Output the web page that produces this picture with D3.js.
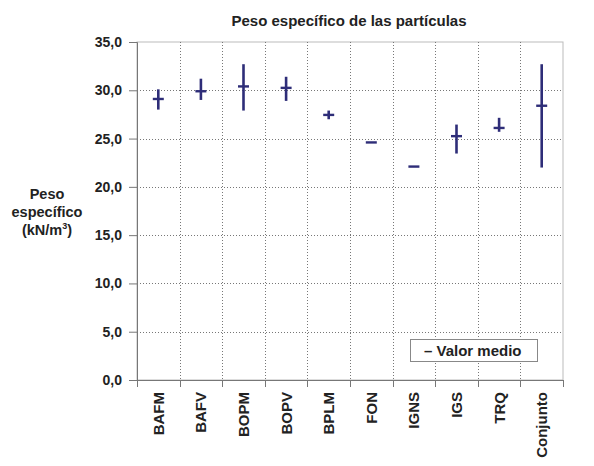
<!DOCTYPE html>
<html>
<head>
<meta charset="utf-8">
<title>Peso específico de las partículas</title>
<style>
body { margin: 0; background: #fff; }
svg text { font-family: "Liberation Sans", Arial, sans-serif; font-weight: bold; fill: #222; }
</style>
</head>
<body>
<svg width="594" height="466"></svg>
<script src="https://d3js.org/d3.v7.min.js"></script>
<script>
// values (kN/m3)
var grupos = ["BAFM", "BAFV", "BOPM", "BOPV", "BPLM", "FON", "IGNS", "IGS", "TRQ", "Conjunto"];
var minimos = [28.0, 29.0, 27.9, 28.9, 27.0, 24.6, 22.1, 23.45, 25.7, 22.0];
var maximos = [30.1, 31.2, 32.7, 31.4, 27.9, 24.6, 22.1, 26.45, 27.15, 32.7];
var medios = [29.1, 29.9, 30.4, 30.25, 27.45, 24.6, 22.1, 25.25, 26.1, 28.4];
var yTicks = [0, 5, 10, 15, 20, 25, 30, 35];

var svg = d3.select("svg");
var margin = {left: 137, right: 31, top: 42, bottom: 86};
var W = 594 - margin.left - margin.right,
    H = 466 - margin.top - margin.bottom;

var x = d3.scaleBand().domain(grupos).range([0, W]);
var y = d3.scaleLinear().domain([0, 35]).range([H, 0]);

var g = svg.append("g").attr("transform", "translate(" + margin.left + "," + margin.top + ")");

// frame top/right
g.append("rect").attr("width", W).attr("height", H)
  .attr("fill", "none").attr("stroke", "#bbb").attr("stroke-width", 1);

// horizontal grid
g.selectAll("line.hgrid").data(yTicks.slice(1, -1)).enter().append("line")
  .attr("class", "hgrid")
  .attr("x1", 0).attr("x2", W)
  .attr("y1", function(d) { return Math.round(y(d)) + 0.5; })
  .attr("y2", function(d) { return Math.round(y(d)) + 0.5; })
  .attr("stroke", "#777").attr("stroke-dasharray", "1,2");

// vertical grid between categories
var bordes = grupos.slice(1).map(function(d) { return x(d); });
g.selectAll("line.vgrid").data(bordes).enter().append("line")
  .attr("class", "vgrid")
  .attr("x1", function(d) { return Math.round(d) + 0.5; })
  .attr("x2", function(d) { return Math.round(d) + 0.5; })
  .attr("y1", 0).attr("y2", H)
  .attr("stroke", "#777").attr("stroke-dasharray", "1,2");

// y axis
var yAxis = g.append("g").call(d3.axisLeft(y).tickValues(yTicks).tickSize(8).tickPadding(7)
  .tickFormat(function(d) { return d3.format(".1f")(d).replace(".", ","); }));
yAxis.select(".domain").attr("stroke", "#777");
yAxis.selectAll(".tick line").attr("stroke", "#777");
yAxis.selectAll("text").style("font-size", "14px").attr("fill", "#222");

// x axis: ticks at category borders
var xAxis = g.append("g").attr("transform", "translate(0," + H + ")");
xAxis.append("line").attr("x1", 0).attr("x2", W).attr("y1", 0.5).attr("y2", 0.5).attr("stroke", "#777");
xAxis.selectAll("line.tk").data([0].concat(bordes).concat([W])).enter().append("line")
  .attr("class", "tk")
  .attr("x1", function(d) { return Math.round(d) + 0.5; })
  .attr("x2", function(d) { return Math.round(d) + 0.5; })
  .attr("y1", 0).attr("y2", 7).attr("stroke", "#777");
xAxis.selectAll("text").data(grupos).enter().append("text")
  .attr("transform", function(d) {
    return "translate(" + (x(d) + x.bandwidth() / 2 + 5.5) + ",12) rotate(-90)";
  })
  .attr("text-anchor", "end")
  .style("font-size", "15px")
  .text(function(d) { return d; });

// ranges and means
var color = "#2e2d78";
var cx = function(i) { return x(grupos[i]) + x.bandwidth() / 2; };
g.selectAll("line.rango").data(grupos).enter().append("line")
  .attr("class", "rango")
  .attr("x1", function(d, i) { return cx(i); })
  .attr("x2", function(d, i) { return cx(i); })
  .attr("y1", function(d, i) { return y(maximos[i]); })
  .attr("y2", function(d, i) { return y(minimos[i]); })
  .attr("stroke", color).attr("stroke-width", 2.6);
g.selectAll("line.medio").data(grupos).enter().append("line")
  .attr("class", "medio")
  .attr("x1", function(d, i) { return cx(i) - 5.5; })
  .attr("x2", function(d, i) { return cx(i) + 5.5; })
  .attr("y1", function(d, i) { return y(medios[i]); })
  .attr("y2", function(d, i) { return y(medios[i]); })
  .attr("stroke", color).attr("stroke-width", 2.4);

// legend
svg.append("rect").attr("x", 410.5).attr("y", 339.5).attr("width", 127).attr("height", 22)
  .attr("fill", "#fff").attr("stroke", "#888");
svg.append("text").attr("x", 424).attr("y", 356).style("font-size", "15px").text("\u2013 Valor medio");

// title
svg.append("text").attr("x", 349).attr("y", 26).attr("text-anchor", "middle")
  .style("font-size", "15px").text("Peso específico de las partículas");

// y title
var yt = svg.append("text").attr("text-anchor", "middle").style("font-size", "14.5px");
yt.append("tspan").attr("x", 47).attr("y", 199).text("Peso");
yt.append("tspan").attr("x", 47).attr("y", 217).text("específico");
yt.append("tspan").attr("x", 47).attr("y", 235).text("(kN/m");
yt.append("tspan").attr("dy", -6).style("font-size", "9px").text("3");
yt.append("tspan").attr("dy", 6).text(")");
</script>
</body>
</html>
